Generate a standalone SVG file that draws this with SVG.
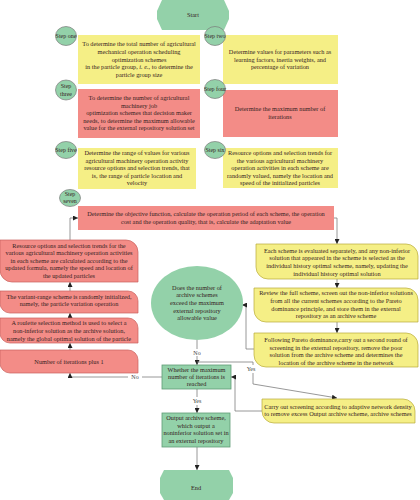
<svg xmlns="http://www.w3.org/2000/svg" width="420" height="500" viewBox="0 0 420 500">
<defs>
<marker id="arr" markerUnits="userSpaceOnUse" markerWidth="5" markerHeight="5" viewBox="0 0 6 6" refX="6" refY="3" orient="auto">
<path d="M0,0 L6,3 L0,6 Z" fill="#222"/>
</marker>
<style>
text{font-family:"Liberation Serif","DejaVu Serif",serif;font-size:6.3px;fill:#352222;text-anchor:middle}
.y{fill:#f5ef86}
.r{fill:#f38c87}
.ry{fill:#f5ef86;stroke:#b8aa3a;stroke-width:0.7}
.rr{fill:#f38c87;stroke:#c8605c;stroke-width:0.7}
.g{fill:#93d1a9}
.gb{fill:#93d1a9;stroke:#5f9c76;stroke-width:0.8}
.c{fill:#93d1a9;stroke:#7a7a7a;stroke-width:0.7}
.ln{fill:none;stroke:#7d7d7d;stroke-width:0.8}
.lb{font-size:6px;fill:#444}
.s{font-size:6px}
</style>
</defs>
<rect width="420" height="500" fill="#fff"/>

<g id="connectors">
<path class="ln" d="M70,240 V218 H78" marker-end="url(#arr)"/>
<path class="ln" d="M334,218 H337 V244" marker-end="url(#arr)"/>
<path class="ln" d="M337,279 V288" marker-end="url(#arr)"/>
<path class="ln" d="M337,322 V333" marker-end="url(#arr)"/>
<path class="ln" d="M254,349 H246 V305 H242" marker-end="url(#arr)"/>
<path class="ln" d="M197,340 V365" marker-end="url(#arr)"/>
<path class="ln" d="M197,362 H253 V384 L337,398" marker-end="url(#arr)"/>
<path class="ln" d="M162,377 H70 V373" marker-end="url(#arr)"/>
<path class="ln" d="M197,389 V413" marker-end="url(#arr)"/>
<path class="ln" d="M197,447 V470" marker-end="url(#arr)"/>
<path class="ln" d="M262,411 H235 V377 H231" marker-end="url(#arr)"/>
<path class="ln" d="M70,350 V343" marker-end="url(#arr)"/>
<path class="ln" d="M70,318 V313" marker-end="url(#arr)"/>
<path class="ln" d="M70,291 V282" marker-end="url(#arr)"/>
<rect x="191" y="349" width="12" height="7" fill="#fff"/>
<text class="lb" x="197" y="355">No</text>
<rect x="244" y="365" width="14" height="8" fill="#fff"/>
<text class="lb" x="251" y="371">Yes</text>
<rect x="128" y="374" width="14" height="7" fill="#fff"/>
<text class="lb" x="135" y="379">No</text>
<rect x="190" y="397" width="14" height="8" fill="#fff"/>
<text class="lb" x="197" y="403">Yes</text>
</g>

<g id="start">
<polygon class="g" points="162,0 224,0 229,11 229,19 224,30 162,30 157,19 157,11"/>
<text x="193" y="17">Start</text>
</g>

<g id="step1">
<rect class="y" x="78" y="35" width="122" height="49"/>
<text x="139" y="46">To determine the total number of agricultural</text>
<text x="139" y="54">mechanical operation scheduling</text>
<text x="139" y="62">optimization schemes</text>
<text x="139" y="69">in the particle group, <tspan font-style="italic">i. e.</tspan>, to determine the</text>
<text x="139" y="77">particle group size</text>
<ellipse class="c" cx="66" cy="36" rx="10.5" ry="9.5"/>
<text class="s" x="66" y="38">Step one</text>
</g>

<g id="step2">
<rect class="y" x="223" y="35" width="115" height="49"/>
<text x="280" y="54">Determine values for parameters such as</text>
<text x="280" y="62">learning factors, inertia weights, and</text>
<text x="280" y="69">percentage of variation</text>
<ellipse class="c" cx="215" cy="36" rx="10.5" ry="9.5"/>
<text class="s" x="215" y="38">Step two</text>
</g>

<g id="step3">
<rect class="r" x="78" y="89" width="122" height="49"/>
<text x="139" y="100">To determine the number of agricultural</text>
<text x="139" y="108">machinery job</text>
<text x="139" y="115">optimization schemes that decision maker</text>
<text x="139" y="123">needs, to determine the maximum allowable</text>
<text x="139" y="130">value for the external repository solution set</text>
<ellipse class="c" cx="66" cy="90" rx="10.5" ry="10"/>
<text class="s" x="66" y="88">Step</text>
<text class="s" x="66" y="96">three</text>
</g>

<g id="step4">
<rect class="r" x="223" y="90" width="115" height="47"/>
<text x="280" y="111">Determine the maximum number of</text>
<text x="280" y="119">iterations</text>
<ellipse class="c" cx="215" cy="89" rx="10.5" ry="9.5"/>
<text class="s" x="215" y="91">Step four</text>
</g>

<g id="step5">
<rect class="y" x="78" y="148" width="118" height="41"/>
<text x="137" y="155">Determine the range of values for various</text>
<text x="137" y="163">agricultural machinery operation activity</text>
<text x="137" y="170">resource options and selection trends, that</text>
<text x="137" y="178">is, the range of particle location and</text>
<text x="137" y="185">velocity</text>
<ellipse class="c" cx="66" cy="150" rx="10.5" ry="8.5"/>
<text class="s" x="66" y="152">Step five</text>
</g>

<g id="step6">
<rect class="y" x="223" y="148" width="115" height="40"/>
<text x="280" y="155">Resource options and selection trends for</text>
<text x="280" y="163">the various agricultural machinery</text>
<text x="280" y="170">operation activities in each scheme are</text>
<text x="280" y="178">randomly valued, namely the location and</text>
<text x="280" y="185">speed of the initialized particles</text>
<ellipse class="c" cx="215" cy="150" rx="10.5" ry="8.5"/>
<text class="s" x="215" y="152">Step six</text>
</g>

<g id="step7">
<rect class="r" x="78" y="206" width="256" height="24"/>
<text x="206" y="216">Determine the objective function, calculate the operation period of each scheme, the operation</text>
<text x="206" y="224">cost and the operation quality, that is, calculate the adaptation value</text>
<ellipse class="c" cx="70" cy="198" rx="10.5" ry="8.5"/>
<text class="s" x="70" y="196">Step</text>
<text class="s" x="70" y="203">seven</text>
</g>

<g id="update">
<path class="rr" d="M0,240 H126 A12,12 0 0 1 138,252 V282 H12 A12,12 0 0 1 0,270 Z"/>
<text x="69" y="248">Resource options and selection trends for the</text>
<text x="69" y="255">various agricultural machinery operation activities</text>
<text x="69" y="263">in each scheme are calculated according to the</text>
<text x="69" y="270">updated formula, namely the speed and location of</text>
<text x="69" y="278">the updated particles</text>
</g>

<g id="variant">
<path class="rr" d="M0,291 H128 A10,10 0 0 1 138,301 V313 H10 A10,10 0 0 1 0,303 Z"/>
<text x="69" y="299">The variant-range scheme is randomly initialized,</text>
<text x="69" y="306">namely, the particle variation operation</text>
</g>

<g id="roulette">
<path class="rr" d="M0,318 H128 A10,10 0 0 1 138,328 V343 H10 A10,10 0 0 1 0,333 Z"/>
<text x="69" y="325">A roulette selection method is used to select a</text>
<text x="69" y="333">non-inferior solution as the archive solution,</text>
<text x="69" y="341">namely the global optimal solution of the particle</text>
</g>

<g id="plus1">
<path class="rr" d="M0,350 H128 A10,10 0 0 1 138,360 V373 H10 A10,10 0 0 1 0,363 Z"/>
<text x="69" y="364">Number of iterations plus 1</text>
</g>

<g id="evaluate">
<path class="ry" d="M256,244 H406 A12,12 0 0 1 418,256 V279 H268 A12,12 0 0 1 256,267 Z"/>
<text x="337" y="253">Each scheme is evaluated separately, and any non-inferior</text>
<text x="337" y="260">solution that appeared in the scheme is selected as the</text>
<text x="337" y="268">individual history optimal scheme, namely, updating the</text>
<text x="337" y="276">individual history optimal solution</text>
</g>

<g id="review">
<path class="ry" d="M254,288 H406 A12,12 0 0 1 418,300 V322 H266 A12,12 0 0 1 254,310 Z"/>
<text x="336" y="295">Review the full scheme, screen out the non-inferior solutions</text>
<text x="336" y="303">from all the current schemes according to the Pareto</text>
<text x="336" y="311">dominance principle, and store them in the external</text>
<text x="336" y="318">repository as an archive scheme</text>
</g>

<g id="pareto">
<path class="ry" d="M254,333 H406 A12,12 0 0 1 418,345 V367 H266 A12,12 0 0 1 254,355 Z"/>
<text x="336" y="342">Following Pareto dominance,carry out a second round of</text>
<text x="336" y="350">screening in the external repository, remove the poor</text>
<text x="336" y="357">solution from the archive scheme and determines the</text>
<text x="336" y="365">location of the archive scheme in the network</text>
</g>

<g id="archive-check">
<ellipse class="g" cx="197" cy="303" rx="46" ry="37"/>
<text x="197" y="290">Does the number of</text>
<text x="197" y="297">archive schemes</text>
<text x="197" y="305">exceed the maximum</text>
<text x="197" y="313">external repository</text>
<text x="197" y="320">allowable value</text>
</g>

<g id="density">
<path class="ry" d="M262,399 H403 A12,12 0 0 1 415,411 V423 H274 A12,12 0 0 1 262,411 Z"/>
<text x="338" y="409">Carry out screening according to adaptive network density</text>
<text x="338" y="416">to remove excess Output archive scheme, archive schemes</text>
</g>

<g id="iter-check">
<rect class="gb" x="162" y="365" width="69" height="24"/>
<text x="196.5" y="372">Whether the maximum</text>
<text x="196.5" y="379">number of iterations is</text>
<text x="196.5" y="386">reached</text>
</g>

<g id="output">
<rect class="gb" x="162" y="413" width="68" height="34"/>
<text x="196" y="420">Output archive scheme,</text>
<text x="196" y="428">which output a</text>
<text x="196" y="435">noninferior solution set in</text>
<text x="196" y="443">an external repository</text>
</g>

<g id="end">
<polygon class="g" points="164,470 229,470 233,478 233,493 229,500 164,500 160,493 160,478"/>
<text x="196" y="490">End</text>
</g>
</svg>
